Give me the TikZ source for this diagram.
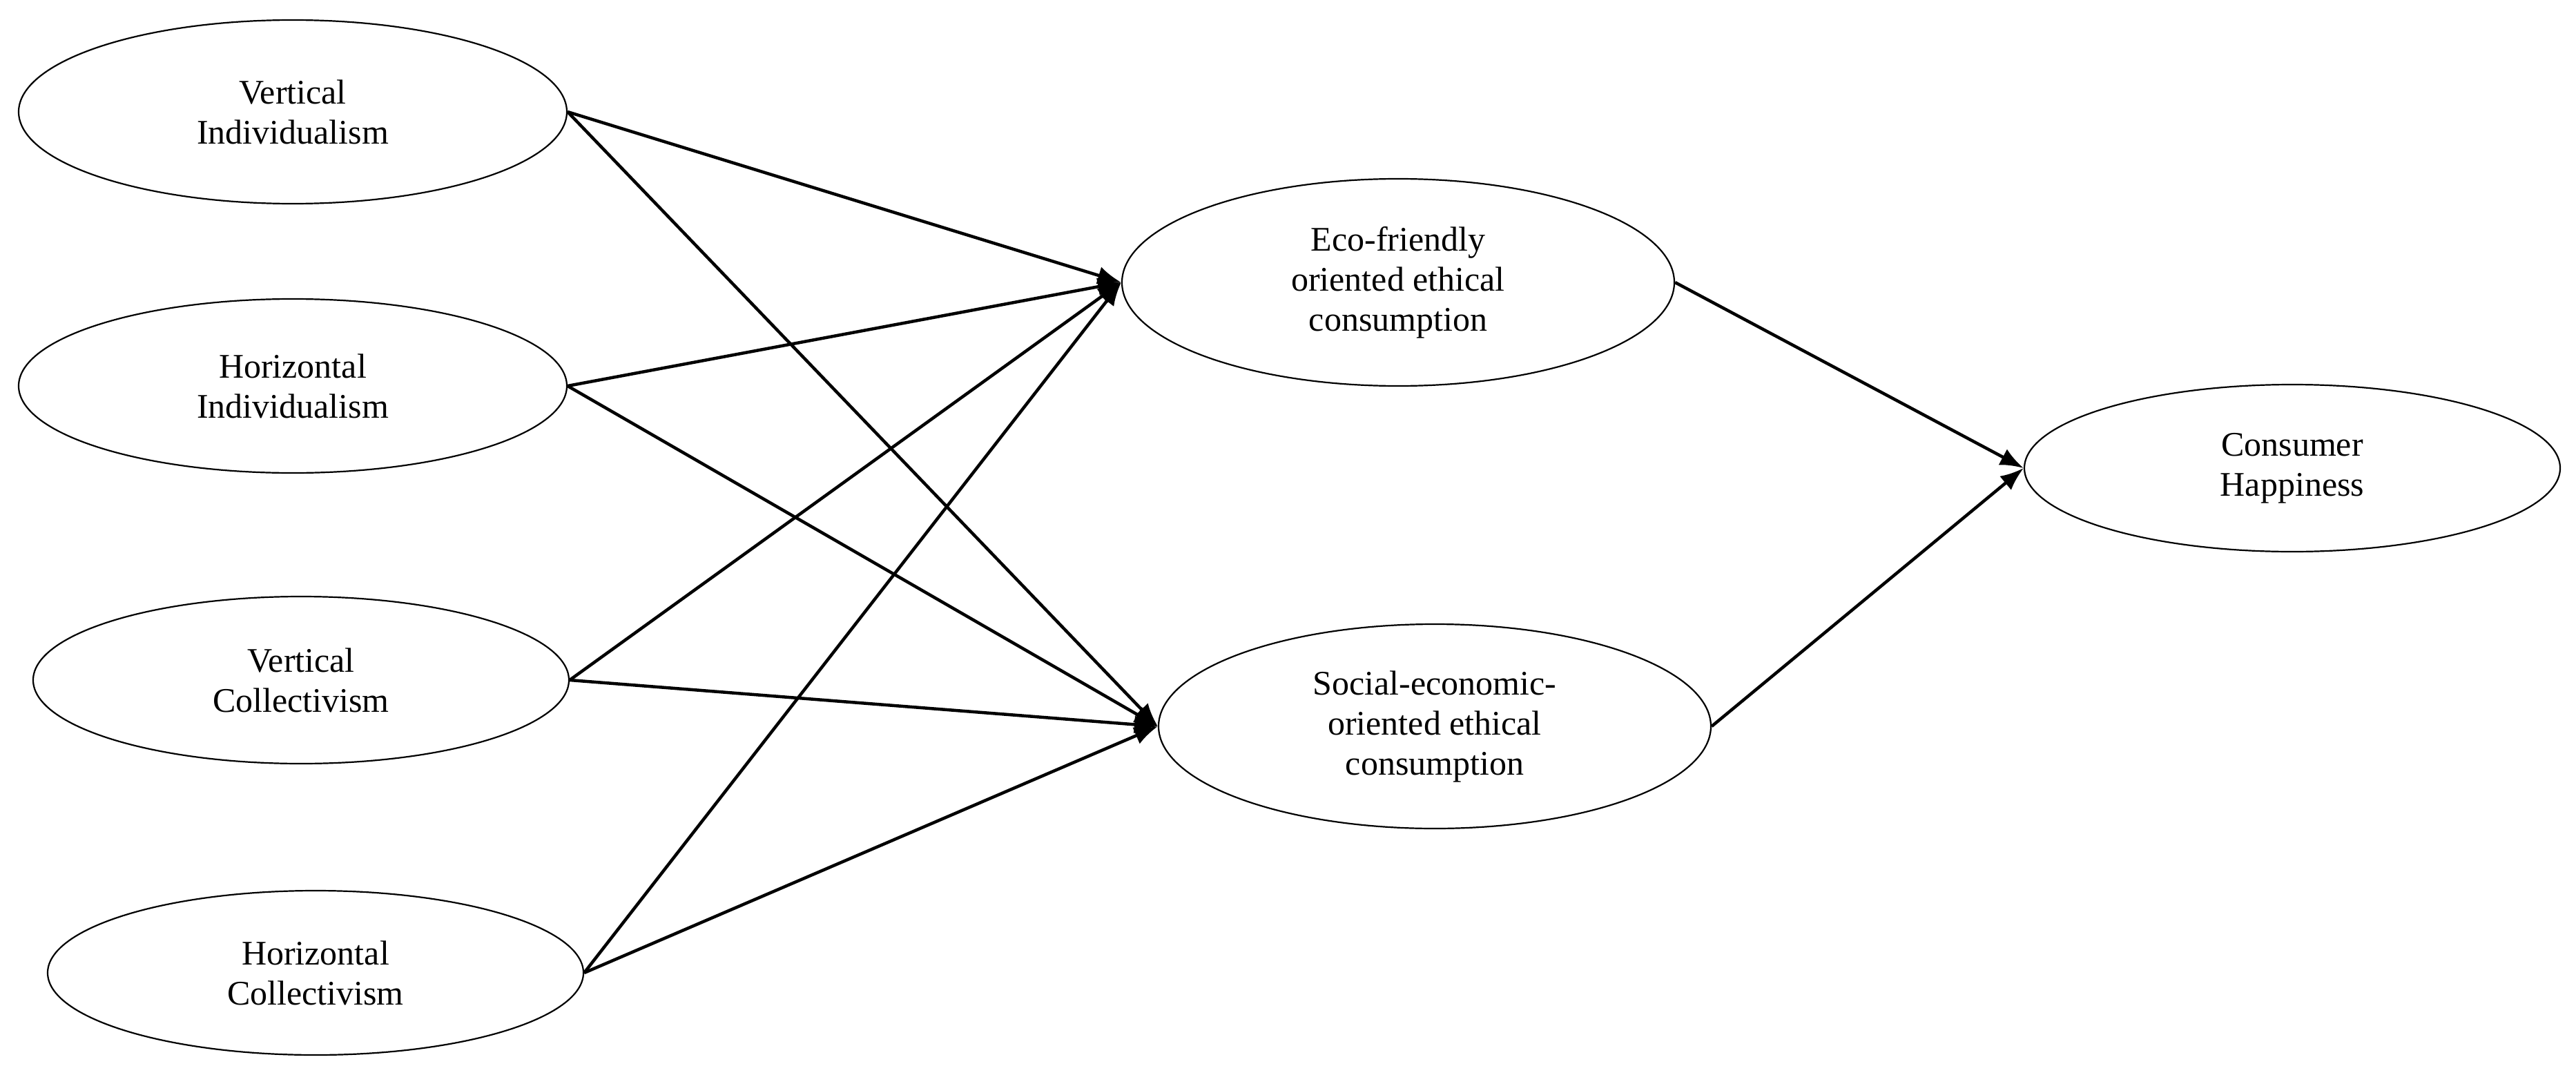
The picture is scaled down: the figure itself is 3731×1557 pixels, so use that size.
\documentclass[tikz,border=0pt]{standalone}
\usepackage{fontspec}
\setmainfont{Liberation Serif}
\usetikzlibrary{shapes.geometric,arrows.meta}
\begin{document}
\begin{tikzpicture}[x=1pt,y=-1pt,
  ell/.style={draw,ellipse,line width=2.2pt,inner sep=0pt,align=center,font=\fontsize{50}{58}\selectfont},
  arr/.style={line width=4.5pt,-{Latex[length=34pt,width=26pt]}}]
\useasboundingbox (0,0) rectangle (3731,1557);
\node[ell,minimum width=794pt,minimum height=266pt] (vi) at (424,162) {Vertical\\Individualism};
\node[ell,minimum width=794pt,minimum height=252pt] (hi) at (424,559) {Horizontal\\Individualism};
\node[ell,minimum width=776pt,minimum height=242pt] (vc) at (436,985) {Vertical\\Collectivism};
\node[ell,minimum width=776pt,minimum height=238pt] (hc) at (457,1409) {Horizontal\\Collectivism};
\node[ell,minimum width=800pt,minimum height=300pt] (eco) at (2025,409) {Eco-friendly\\oriented ethical\\consumption};
\node[ell,minimum width=800pt,minimum height=296pt] (soc) at (2078,1052) {Social-economic-\\oriented ethical\\consumption};
\node[ell,minimum width=776pt,minimum height=242pt] (ch) at (3320,678) {Consumer\\Happiness};
\foreach \s in {vi,hi,vc,hc}{
  \draw[arr] (\s.east) -- (eco.west);
  \draw[arr] (\s.east) -- (soc.west);
}
\draw[arr] (eco.east) -- (ch.west);
\draw[arr] (soc.east) -- (ch.west);
\end{tikzpicture}
\end{document}
